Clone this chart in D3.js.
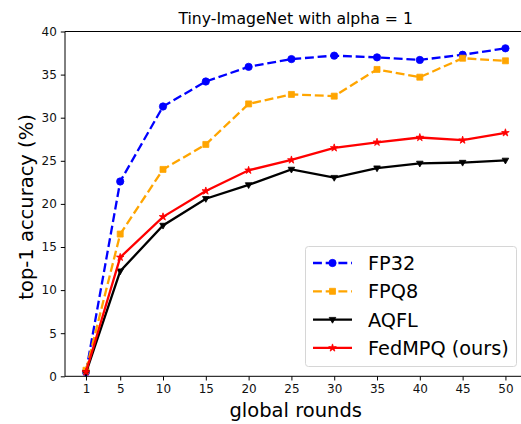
<!DOCTYPE html>
<html><head><meta charset="utf-8">
<script src="https://cdn.jsdelivr.net/npm/d3@7"></script>
<style>body{margin:0;background:#fff}svg{display:block;font-family:"DejaVu Sans",sans-serif}</style>
</head><body><div id="chart"></div>
<script>
const rounds = [1, 5, 10, 15, 20, 25, 30, 35, 40, 45, 50];
const fp32 = [0.5, 22.6, 31.3, 34.2, 35.9, 36.8, 37.2, 37.0, 36.7, 37.3, 38.05];
const fpq8 = [0.7, 16.5, 24.0, 26.9, 31.6, 32.7, 32.5, 35.6, 34.7, 36.9, 36.6];
const aqfl = [0.4, 12.2, 17.5, 20.6, 22.2, 24.0, 23.05, 24.15, 24.7, 24.8, 25.05];
const fedmpq = [0.5, 13.8, 18.5, 21.5, 23.9, 25.1, 26.5, 27.15, 27.7, 27.4, 28.25];
const yTicks = [0, 5, 10, 15, 20, 25, 30, 35, 40];
const seriesNames = ["FP32", "FPQ8", "AQFL", "FedMPQ (ours)"];

const W = 521, H = 424;
const m = {left: 65, top: 31.5, right: 526.4, bottom: 376.3};
const svg = d3.select("#chart").append("svg").attr("width", W).attr("height", H);

const x = d3.scaleLinear().domain([-1.45, 52.45]).range([m.left, m.right]);
const y = d3.scaleLinear().domain([0, 40]).range([m.bottom, m.top]);

const series = [
  {name: seriesNames[0], vals: fp32, color: "#0000ff", dash: "8.9,3.8", marker: "circle"},
  {name: seriesNames[1], vals: fpq8, color: "#ffa500", dash: "8.9,3.8", marker: "square"},
  {name: seriesNames[2], vals: aqfl, color: "#000000", dash: null, marker: "tri"},
  {name: seriesNames[3], vals: fedmpq, color: "#ff0000", dash: null, marker: "star"}
];

function markerPath(type) {
  if (type === "circle") return d3.symbol(d3.symbolCircle, 42)();
  if (type === "square") return d3.symbol(d3.symbolSquare, 36)();
  if (type === "tri") return "M-3.3,-2.2L3.3,-2.2L0,3.6Z";
  return d3.symbol(d3.symbolStar, 18)();
}

// axes
const xAxis = d3.axisBottom(x).tickValues(rounds).tickSize(4.2).tickPadding(4).tickFormat(d3.format("d"));
const yAxis = d3.axisLeft(y).tickValues(yTicks).tickSize(4.2).tickPadding(4);
const gx = svg.append("g").attr("transform", `translate(0,${m.bottom})`).call(xAxis);
const gy = svg.append("g").attr("transform", `translate(${m.left},0)`).call(yAxis);
[gx, gy].forEach(g => {
  g.select(".domain").remove();
  g.selectAll("line").attr("stroke", "#000").attr("stroke-width", 1);
  g.selectAll("text").attr("font-size", 12).attr("fill", "#111").attr("font-family", "DejaVu Sans");
});
// spines
svg.append("line").attr("x1", m.left).attr("x2", m.left).attr("y1", m.top).attr("y2", m.bottom).attr("stroke", "#000").attr("stroke-width", 1);
svg.append("line").attr("x1", m.left).attr("x2", m.right).attr("y1", m.bottom).attr("y2", m.bottom).attr("stroke", "#000").attr("stroke-width", 1);
svg.append("line").attr("x1", m.left).attr("x2", m.right).attr("y1", m.top).attr("y2", m.top).attr("stroke", "#000").attr("stroke-width", 1);
svg.append("line").attr("x1", m.right).attr("x2", m.right).attr("y1", m.top).attr("y2", m.bottom).attr("stroke", "#000").attr("stroke-width", 1);

const line = d3.line().x((d, i) => x(rounds[i])).y(d => y(d));
series.forEach(s => {
  const g = svg.append("g");
  g.append("path").attr("d", line(s.vals)).attr("fill", "none").attr("stroke", s.color)
    .attr("stroke-width", 2.3).attr("stroke-dasharray", s.dash);
  g.selectAll("path.mk").data(s.vals).join("path").attr("class", "mk")
    .attr("d", markerPath(s.marker))
    .attr("transform", (d, i) => `translate(${x(rounds[i])},${y(d)})`)
    .attr("fill", s.color).attr("stroke", s.color).attr("stroke-width", 0.8);
});

// title & labels
svg.append("text").attr("x", (m.left + m.right) / 2).attr("y", 24).attr("text-anchor", "middle")
  .attr("font-size", 15.7).attr("fill", "#000").text("Tiny-ImageNet with alpha = 1");
svg.append("text").attr("x", (m.left + m.right) / 2).attr("y", 417).attr("text-anchor", "middle")
  .attr("font-size", 19.5).attr("fill", "#000").text("global rounds");
svg.append("text").attr("transform", `translate(33,${(m.top + m.bottom) / 2 + 3}) rotate(-90)`).attr("text-anchor", "middle")
  .attr("font-size", 19.5).attr("fill", "#000").text("top-1 accuracy (%)");

// legend
const lg = svg.append("g");
lg.append("rect").attr("x", 305.5).attr("y", 246.5).attr("width", 211).attr("height", 120).attr("rx", 3)
  .attr("fill", "#fff").attr("fill-opacity", 0.8).attr("stroke", "#d6d6d6").attr("stroke-width", 1);
series.forEach((s, i) => {
  const yy = 263 + i * 28.3;
  lg.append("line").attr("x1", 313).attr("x2", 352).attr("y1", yy).attr("y2", yy)
    .attr("stroke", s.color).attr("stroke-width", 2.3).attr("stroke-dasharray", s.dash);
  lg.append("path").attr("d", markerPath(s.marker)).attr("transform", `translate(332.5,${yy})`)
    .attr("fill", s.color).attr("stroke", s.color).attr("stroke-width", 0.8);
  lg.append("text").attr("x", 368).attr("y", yy + 7).attr("font-size", 19.3).attr("fill", "#000").text(s.name);
});
</script></body></html>
